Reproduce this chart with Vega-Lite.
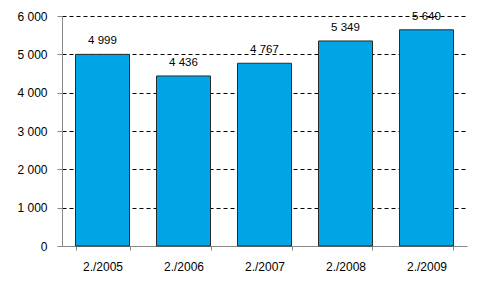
{
  "$schema": "https://vega.github.io/schema/vega-lite/v6.json",
  "width": 405,
  "height": 230,
  "autosize": {"type": "none"},
  "padding": {"left": 62, "top": 16, "right": 15, "bottom": 44},
  "background": "white",
  "config": {
    "view": {"stroke": null},
    "font": "Liberation Sans",
    "locale": {"number": {"decimal": ",", "thousands": " ", "grouping": [3], "currency": ["", " €"]}}
  },
  "data": {"values": [
    {"period": "2./2005", "value": 4999},
    {"period": "2./2006", "value": 4436},
    {"period": "2./2007", "value": 4767},
    {"period": "2./2008", "value": 5349},
    {"period": "2./2009", "value": 5640}
  ]},
  "encoding": {
    "x": {
      "field": "period", "type": "nominal", "sort": null,
      "scale": {"paddingInner": 0.3333, "paddingOuter": 0.1667},
      "axis": {
        "title": null, "labelAngle": 0, "labelFontSize": 12, "labelColor": "black",
        "labelPadding": 11, "tickSize": 4, "tickBand": "extent",
        "domainColor": "#888888", "tickColor": "#888888", "grid": false
      }
    },
    "y": {
      "field": "value", "type": "quantitative",
      "scale": {"domain": [0, 6000]},
      "axis": {
        "title": null, "values": [0, 1000, 2000, 3000, 4000, 5000, 6000],
        "format": ",.0f",
        "labelFontSize": 12, "labelColor": "black", "labelPadding": 10, "tickSize": 5,
        "domainColor": "#888888", "tickColor": "#888888",
        "grid": true, "gridColor": "black", "gridDash": [4, 3], "gridOpacity": 1, "gridWidth": 1
      }
    }
  },
  "layer": [
    {
      "mark": {"type": "bar", "color": "#00A5E6", "stroke": "#2b2b2b", "strokeWidth": 1}
    },
    {
      "mark": {"type": "text", "baseline": "bottom", "dy": -8, "fontSize": 11.5, "color": "black"},
      "encoding": {
        "text": {"field": "value", "type": "quantitative", "format": ",.0f"}
      }
    }
  ]
}
